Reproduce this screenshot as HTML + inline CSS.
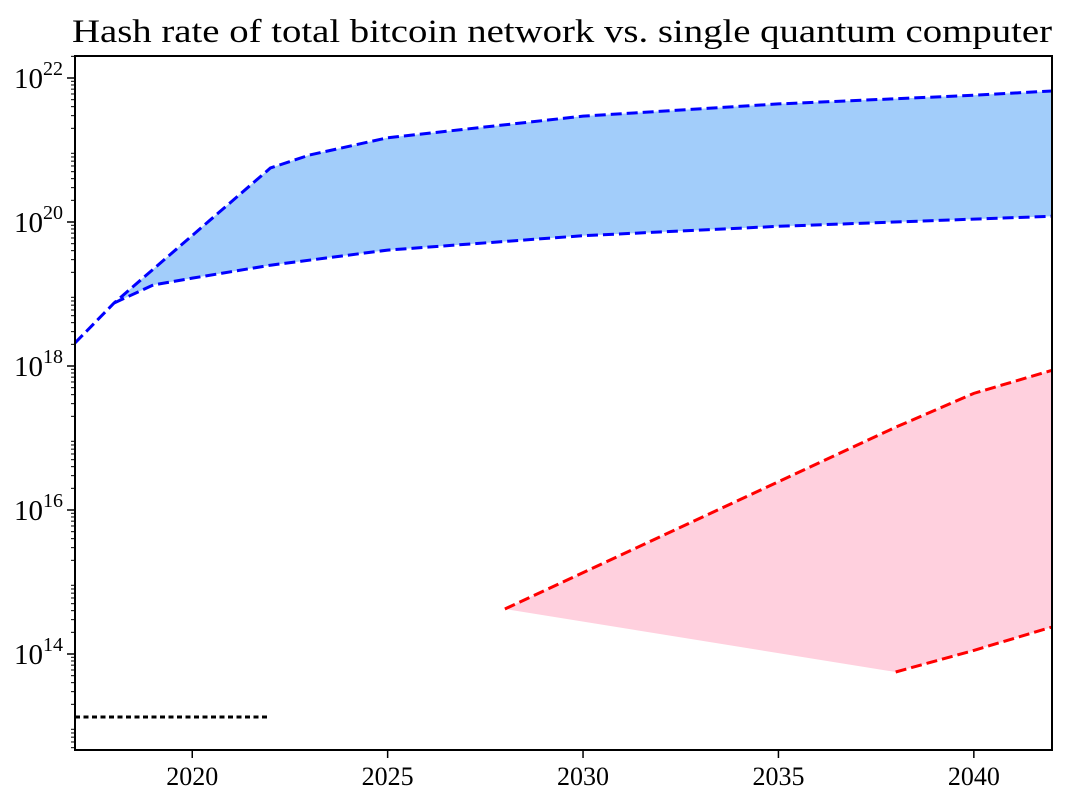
<!DOCTYPE html>
<html><head><meta charset="utf-8"><style>
body{margin:0;background:#fff}
svg text{font-family:"Liberation Serif",serif;fill:#000}
</style></head><body>
<svg id="chart" width="1076" height="807" xmlns="http://www.w3.org/2000/svg">
<text x="72" y="42" font-size="33" textLength="980" lengthAdjust="spacingAndGlyphs">Hash rate of total bitcoin network vs. single quantum computer</text>
<g id="plot"></g>
</svg>
<script>
const btcYears=[2017,2018,2022,2023,2025,2030,2035,2040,2042];
const btcHigh=[18.32,18.875,20.75,20.93,21.17,21.47,21.64,21.76,21.82];
const btcLowYears=[2018,2019,2020,2022,2025,2030,2035,2040,2042];
const btcLow=[18.875,19.125,19.22,19.40,19.61,19.81,19.94,20.04,20.08];
const qUpYears=[2028,2038,2040,2042];
const qUp=[14.625,17.15,17.62,17.94];
const qLowYears=[2028,2038,2040,2042];
const qLow=[14.625,13.75,14.05,14.375];
const refYears=[2017,2022];
const refVal=[13.125,13.125];
const xTicks=[2020,2025,2030,2035,2040];
const yTicks=[14,16,18,20,22];
const L=75,R=1052,T=56,B=750;
const x=v=>L+(v-2017)*(R-L)/25;
const y=v=>78+(22-v)*72;
const ns="http://www.w3.org/2000/svg";
const g=document.getElementById('plot');
function mk(t,a){const e=document.createElementNS(ns,t);for(const k in a)e.setAttribute(k,a[k]);g.appendChild(e);return e;}
function pts(xs,ys){return xs.map((v,i)=>x(v)+','+y(ys[i])).join(' ');}
let f1=mk('polygon',{points:pts([2018].concat(btcYears.slice(2)),[btcHigh[1]].concat(btcHigh.slice(2)))+' '+pts(btcLowYears.slice().reverse(),btcLow.slice().reverse()),fill:'#a2cdfa'});


let f2=mk('polygon',{points:pts(qUpYears,qUp)+' '+pts(qLowYears.slice().reverse(),qLow.slice().reverse()),fill:'#ffd0de'});


const dash={fill:'none','stroke-width':3,'stroke-dasharray':'11,5'};
let l1=mk('polyline',Object.assign({points:pts(btcYears,btcHigh),stroke:'#0000ff'},dash));


let l2=mk('polyline',Object.assign({points:pts(btcLowYears,btcLow),stroke:'#0000ff'},dash));


let l3=mk('polyline',Object.assign({points:pts(qUpYears,qUp),stroke:'#ff0000'},dash));


let l4=mk('polyline',Object.assign({points:pts(qLowYears.slice(1),qLow.slice(1)),stroke:'#ff0000'},dash));


let l5=mk('polyline',{points:pts(refYears,refVal),stroke:'#000',fill:'none','stroke-width':3,'stroke-dasharray':'5,3.5'});


let fr=mk('rect',{x:L,y:T,width:R-L,height:B-T,fill:'none',stroke:'#000','stroke-width':2});


xTicks.forEach(v=>{
  mk('line',{x1:x(v),x2:x(v),y1:B,y2:B+8,stroke:'#000','stroke-width':1.5});
  let t=mk('text',{x:x(v),y:B+35,'text-anchor':'middle','font-size':26});t.textContent=v;
  
  
});
for(let d=12;d<=22;d++){for(let m=1;m<10;m++){const v=d+Math.log10(m);const yy=y(v);if(yy<T||yy>B)continue;
  const major=(m===1&&d%2===0);
  if(m===1&&d%2===1)continue;
  mk('line',{x1:L-(major?8:4),x2:L,y1:yy,y2:yy,stroke:'#000','stroke-width':major?1.5:1});}}
yTicks.forEach(v=>{
  let t=mk('text',{x:L-12,y:y(v)+10,'text-anchor':'end','font-size':29});
  t.textContent='10';
  const s=document.createElementNS(ns,'tspan');s.setAttribute('dy','-13');s.setAttribute('font-size','20');s.textContent=v;t.appendChild(s);
  
  
});
</script>
</body></html>
